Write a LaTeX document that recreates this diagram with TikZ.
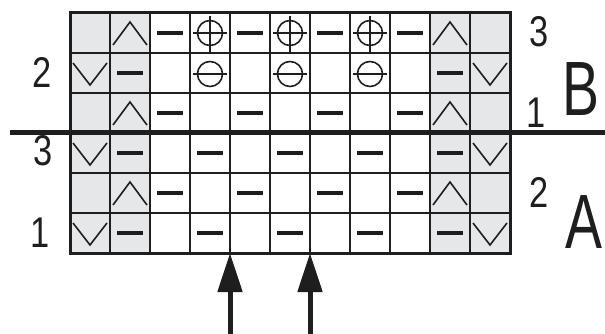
\documentclass[tikz,border=0pt]{standalone}
\usepackage{fontspec}
\setmainfont{Liberation Sans}
\newfontfamily\digfont[FakeStretch=0.8]{Liberation Sans}
\newfontfamily\letfont[FakeStretch=0.72]{Liberation Sans}
\usetikzlibrary{arrows.meta}
\definecolor{cellgray}{RGB}{230,231,233}
\definecolor{ink}{RGB}{30,30,30}
\tikzset{
  gridline/.style={draw=ink,line width=1.7pt},
  border/.style={draw=ink,line width=3pt},
  thickrule/.style={draw=ink,line width=5pt},
  sym/.style={draw=ink,line width=1.6pt},
  dashsym/.style={draw=ink,line width=3.6pt},
  crosssym/.style={draw=ink,line width=2.8pt},
  dig/.style={inner sep=0pt,anchor=base,text=ink,font=\digfont\fontsize{43}{43}\selectfont},
  let/.style={inner sep=0pt,anchor=base,text=ink,font=\letfont\fontsize{77}{77}\selectfont},
  bigarrow/.style={draw=ink,fill=ink,line width=5pt,-{Triangle[length=39pt,width=24pt]}},
  knitup/.pic={\draw[sym] (-17,12) -- (0,-11) -- (17,12);},
  knitdown/.pic={\draw[sym] (-17,-10) -- (0,12) -- (17,-10);},
  knitdash/.pic={\draw[dashsym] (-13,0) -- (13,0);},
  knitplus/.pic={\draw[sym] (0,0) circle[radius=12.5];
                 \draw[crosssym] (-17,0) -- (17,0);
                 \draw[crosssym] (0,-17) -- (0,19);},
  knitminus/.pic={\draw[sym] (0,0) circle[radius=12.5];
                  \draw[crosssym] (-17,0) -- (17,0);},
}
\begin{document}
\begin{tikzpicture}[x=1pt,y=-1pt]
\useasboundingbox (0,0) rectangle (605,334);
% grey edge columns
\fill[cellgray] (70,13) rectangle (150,253);
\fill[cellgray] (430,13) rectangle (510,253);
% grid
\foreach \x in {110,150,...,470} \draw[gridline] (\x,13) -- (\x,253);
\foreach \y in {53,93,173,213} \draw[gridline] (70,\y) -- (510,\y);
\draw[border] (70,13) rectangle (510,253);
\draw[thickrule] (10,133) -- (605,133);
% row 0
\foreach \x in {130,450} \pic at (\x,33) {knitup};
\foreach \x in {170,250,330,410} \pic at (\x,33) {knitdash};
\foreach \x in {210,290,370} \pic at (\x,33) {knitplus};
% row 1
\foreach \x in {90,490} \pic at (\x,73) {knitdown};
\foreach \x in {130,450} \pic at (\x,73) {knitdash};
\foreach \x in {210,290,370} \pic at (\x,74) {knitminus};
% row 2
\foreach \x in {130,450} \pic at (\x,113) {knitup};
\foreach \x in {170,250,330,410} \pic at (\x,113) {knitdash};
% row 3
\foreach \x in {90,490} \pic at (\x,153) {knitdown};
\foreach \x in {130,210,290,370,450} \pic at (\x,153) {knitdash};
% row 4
\foreach \x in {130,450} \pic at (\x,193) {knitup};
\foreach \x in {170,250,330,410} \pic at (\x,193) {knitdash};
% row 5
\foreach \x in {90,490} \pic at (\x,233) {knitdown};
\foreach \x in {130,210,290,370,450} \pic at (\x,233) {knitdash};
% labels
\node[dig] (l2) at (42,88) {2};
\node[dig] (l3) at (43,165) {3};
\node[dig] (l1) at (40,247) {1};
\node[dig] (r3) at (539,47) {3};
\node[dig] (r1) at (536,128) {1};
\node[dig] (r2) at (539,207) {2};
\node[let] (lb) at (581,116) {B};
\node[let] (la) at (584,248) {A};
% arrows
\coordinate (t1) at (230,253);
\coordinate (s1) at (230,334);
\coordinate (t2) at (310,253);
\coordinate (s2) at (310,334);
\draw[bigarrow] (s1) -- (t1);
\draw[bigarrow] (s2) -- (t2);
\end{tikzpicture}
\end{document}
